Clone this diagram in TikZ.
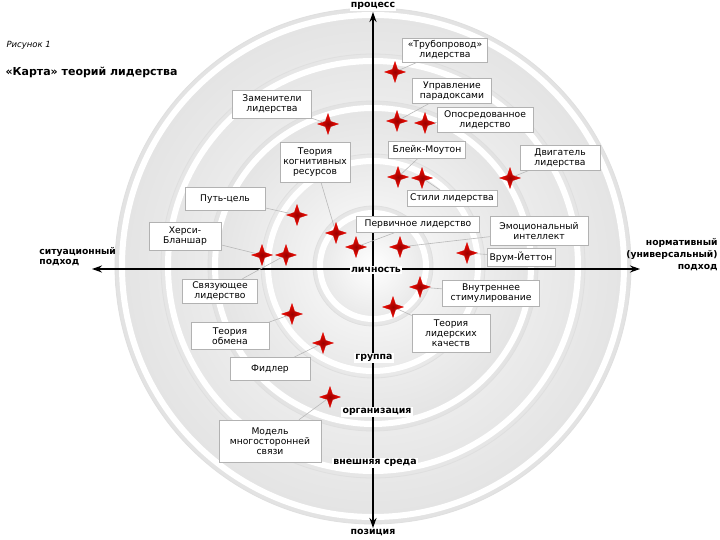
\documentclass[tikz,border=0pt]{standalone}
\usepackage{fontspec}
\setmainfont{DejaVu Sans}
\usetikzlibrary{shapes.geometric,arrows.meta}
\begin{document}
\begin{tikzpicture}[x=1pt,y=-1pt,
 box/.style={draw=gray!60, fill=white, font=\fontsize{9.2}{10}\selectfont, align=center, inner sep=2pt, line width=0.5pt},
 spark/.style={star, star points=4, star point ratio=2.8, inner color=red!60!black, outer color=red!90!orange, draw=red!80!black, line width=0.2pt, minimum size=21pt, inner sep=0pt},
 link/.style={draw=gray!55, line width=0.6pt},
 axis/.style={line width=1.7pt, -{Stealth[length=10pt,width=7pt]}},
 axlabel/.style={fill=white, font=\bfseries\fontsize{9.4}{10}\selectfont, inner sep=1.2pt}]
\useasboundingbox (0,0) rectangle (720,540);
\fill[white] (0,0) rectangle (720,540);
% rings
\foreach \r/\c in {258/22,212/20,165/22,112/18,60/20}{
  \shade[inner color=white, outer color=gray!\c!white] (373,266) circle (\r);
  \draw[white, line width=6pt] (373,266) circle (\r-7);
  \draw[gray!25, line width=0.8pt] (373,266) circle (\r);
}
% axes
\coordinate (top) at (373,12);
\coordinate (bot) at (373,528);
\coordinate (lft) at (92,269);
\coordinate (rgt) at (640,269);
\coordinate (ctr) at (373,269);
\draw[axis] (ctr) -- (top);
\draw[axis] (ctr) -- (bot);
\draw[axis] (ctr) -- (lft);
\draw[axis] (ctr) -- (rgt);
\node[axlabel] (proc) at (373,6) {процесс};
\node[axlabel] (poz) at (373,533) {позиция};
\node[axlabel] (lich) at (376,270) {личность};
\node[axlabel] (grp) at (374,358) {группа};
\node[axlabel] (org) at (377,412) {организация};
\node[axlabel] (vn) at (375,463) {внешняя среда};
\node[axlabel, fill=none, anchor=west, align=left, font=\bfseries\fontsize{9.2}{10}\selectfont] (sit) at (38,257) {ситуационный\\подход};
\node[axlabel, fill=none, anchor=east, align=right, font=\bfseries\fontsize{9.2}{12}\selectfont] (norm) at (719,255) {нормативный\\(универсальный)\\подход};
% title
\node[anchor=west, font=\itshape\fontsize{8.5}{9}\selectfont] (fig) at (3,45) {Рисунок 1};
\node[anchor=west, font=\bfseries\fontsize{11}{12}\selectfont] (ttl) at (2,72) {«Карта» теорий лидерства};
% boxes
\node[box, minimum width=79pt, minimum height=28pt] (bZ) at (272,104) {Заменители\\лидерства};
\node[box, minimum width=70pt, minimum height=40pt] (bK) at (315,162) {Теория\\когнитивных\\ресурсов};
\node[box, minimum width=80pt, minimum height=23pt] (bP) at (225,199) {Путь-цель};
\node[box, minimum width=72pt, minimum height=28pt] (bH) at (185,236) {Херси-\\Бланшар};
\node[box, minimum width=75pt, minimum height=24pt] (bSv) at (220,291) {Связующее\\лидерство};
\node[box, minimum width=78pt, minimum height=27pt] (bTo) at (230,336) {Теория\\обмена};
\node[box, minimum width=80pt, minimum height=23pt] (bF) at (270,369) {Фидлер};
\node[box, minimum width=102pt, minimum height=42pt] (bM) at (270,441) {Модель\\многосторонней\\связи};
\node[box, minimum width=85pt, minimum height=24pt] (bT) at (445,50) {«Трубопровод»\\лидерства};
\node[box, minimum width=79pt, minimum height=25pt] (bU) at (452,91) {Управление\\парадоксами};
\node[box, minimum width=96pt, minimum height=25pt] (bO) at (485,120) {Опосредованное\\лидерство};
\node[box, minimum width=77pt, minimum height=17pt] (bB) at (427,150) {Блейк-Моутон};
\node[box, minimum width=80pt, minimum height=25pt] (bD) at (560,158) {Двигатель\\лидерства};
\node[box, minimum width=90pt, minimum height=16pt] (bS) at (452,198) {Стили лидерства};
\node[box, minimum width=123pt, minimum height=16pt] (bPr) at (418,224) {Первичное лидерство};
\node[box, minimum width=98pt, minimum height=29pt] (bE) at (539,231) {Эмоциональный\\интеллект};
\node[box, minimum width=68pt, minimum height=18pt] (bV) at (521,257) {Врум-Йеттон};
\node[box, minimum width=97pt, minimum height=26pt] (bVn) at (491,293) {Внутреннее\\стимулирование};
\node[box, minimum width=78pt, minimum height=38pt] (bL) at (451,333) {Теория\\лидерских\\качеств};
% stars
\node[spark] (sT) at (395,72) {};
\node[spark] (sU) at (397,121) {};
\node[spark] (sO) at (425,123) {};
\node[spark] (sZ) at (328,124) {};
\node[spark] (sB) at (398,177) {};
\node[spark] (sS) at (422,178) {};
\node[spark] (sD) at (510,178) {};
\node[spark] (sP) at (297,215) {};
\node[spark] (sH1) at (262,255) {};
\node[spark] (sH2) at (286,255) {};
\node[spark] (sK) at (336,233) {};
\node[spark] (sPr) at (356,247) {};
\node[spark] (sE) at (400,247) {};
\node[spark] (sV) at (467,253) {};
\node[spark] (sVn) at (420,287) {};
\node[spark] (sL) at (393,307) {};
\node[spark] (sTo) at (292,314) {};
\node[spark] (sF) at (323,343) {};
\node[spark] (sM) at (330,397) {};
% links
\draw[link] (sT) -- (bT);
\draw[link] (sU) -- (bU);
\draw[link] (sO) -- (bO);
\draw[link] (sZ) -- (bZ);
\draw[link] (sB) -- (bB);
\draw[link] (sS) -- (bS);
\draw[link] (sD) -- (bD);
\draw[link] (sP) -- (bP);
\draw[link] (sH1) -- (bH);
\draw[link] (sH2) -- (bSv);
\draw[link] (sK) -- (bK);
\draw[link] (sPr) -- (bPr);
\draw[link] (sE) -- (bE);
\draw[link] (sV) -- (bV);
\draw[link] (sVn) -- (bVn);
\draw[link] (sL) -- (bL);
\draw[link] (sTo) -- (bTo);
\draw[link] (sF) -- (bF);
\draw[link] (sM) -- (bM);
\end{tikzpicture}
\end{document}
